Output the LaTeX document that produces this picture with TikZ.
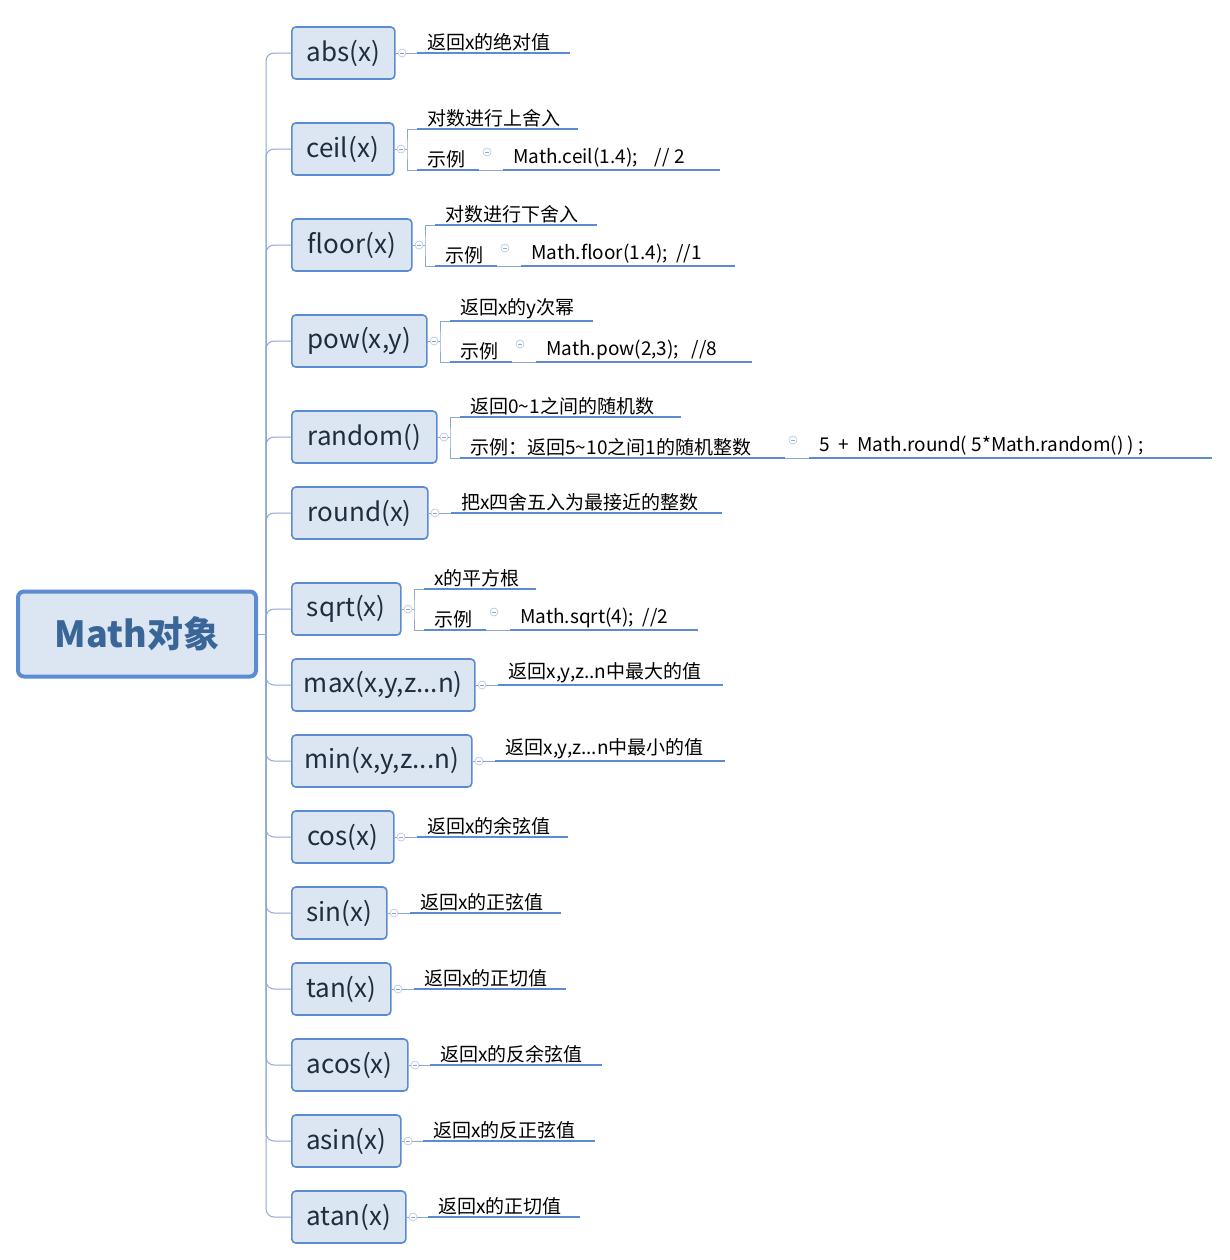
\documentclass[tikz,border=0pt]{standalone}
\usepackage{fontspec}
\setmainfont{Noto Sans CJK SC}
\definecolor{bfill}{HTML}{DCE6F2}
\definecolor{bdraw}{HTML}{5B8BD0}
\definecolor{btext}{HTML}{1F2D3D}
\definecolor{rtext}{HTML}{3A6598}
\definecolor{conn}{HTML}{8EA9D0}
\tikzset{
 cbox/.style={draw=bdraw,fill=bfill,line width=0.8pt,rounded corners=2pt,minimum height=26pt,inner sep=0pt,font=\fontsize{13}{15}\selectfont,text=btext},
 rootbox/.style={draw=bdraw,fill=bfill,line width=2pt,rounded corners=3pt,minimum width=119pt,minimum height=42.5pt,font=\fontsize{18}{20}\selectfont\bfseries,text=rtext},
 cn/.style={draw=conn,line width=0.5pt},
 ul/.style={draw=bdraw,line width=1.4pt},
 circ/.style={circle,draw=conn!70,fill=white,line width=0.3pt,minimum size=4pt,inner sep=0pt,path picture={\draw[conn,line width=0.3pt]([xshift=-1pt]path picture bounding box.center)--([xshift=1pt]path picture bounding box.center);}},
 lt/.style={anchor=south west,inner sep=1pt,font=\fontsize{9.5}{11}\selectfont,text=black}
}
\newcommand{\mychild}[5]{%
 \node[cbox,anchor=west,minimum width={(#3-291)*0.5pt}] (#1) at (291,#4) {#5};
 \draw[cn,rounded corners=4pt] (trunk) |- (#1.west);
 \node[circ] (#1c) at (#3+8,#4) {};
 \draw[cn] (#1.east) -- (#1c);}
\newcommand{\myleaf}[5]{% name, x1, x2, y, text
 \coordinate (#1a) at (#2,#4); \coordinate (#1b) at (#3,#4);
 \draw[ul] (#1a) -- (#1b);
 \node[lt] (#1) at ([xshift=4]#1a) {#5};}
\begin{document}
\begin{tikzpicture}[x=0.5pt,y=-0.5pt]
\useasboundingbox (0,0) rectangle (1230,1260);
\node[rootbox] (root) at (137,634) {Math对象};
\coordinate (trunk) at (266,634);
\draw[cn] (root.east) -- (trunk);
% abs
\mychild{abs}{291}{394}{53}{abs(x)}
\myleaf{l1}{417}{570}{53}{返回x的绝对值}
\draw[cn] (absc) -- (l1a);
% ceil
\mychild{ceil}{291}{393}{149}{ceil(x)}
\myleaf{l2}{417}{578}{129}{对数进行上舍入}
\myleaf{l2e}{417}{479}{170}{示例}
\myleaf{l2m}{503}{720}{170}{Math.ceil(1.4);\ \ \ \ // 2}
\draw[cn] (ceilc) -- (407,149);
\draw[cn] (l2a) -| (407,149) |- (l2ea);
\draw[cn] (l2eb) -- (l2ma);
\node[circ] (c2) at (487,152) {};
% floor
\mychild{floor}{291}{411}{245}{floor(x)}
\myleaf{l3}{435}{597}{225}{对数进行下舍入}
\myleaf{l3e}{435}{497}{266}{示例}
\myleaf{l3m}{521}{735}{266}{Math.floor(1.4);\ \ //1}
\draw[cn] (floorc) -- (425,245);
\draw[cn] (l3a) -| (425,245) |- (l3ea);
\draw[cn] (l3eb) -- (l3ma);
\node[circ] (c3) at (505,248) {};
% pow
\mychild{pow}{291}{426}{341}{pow(x,y)}
\myleaf{l4}{450}{593}{321}{返回x的y次幂}
\myleaf{l4e}{450}{512}{362}{示例}
\myleaf{l4m}{536}{752}{362}{Math.pow(2,3);\ \ \ //8}
\draw[cn] (powc) -- (440,341);
\draw[cn] (l4a) -| (440,341) |- (l4ea);
\draw[cn] (l4eb) -- (l4ma);
\node[circ] (c4) at (520,344) {};
% random
\mychild{random}{291}{436}{437}{random()}
\myleaf{l5}{460}{681}{417}{返回0\textasciitilde1之间的随机数}
\myleaf{l5e}{460}{785}{458}{示例：返回5\textasciitilde10之间1的随机整数}
\myleaf{l5m}{809}{1212}{458}{5 \ +\ \ Math.round( 5*Math.random() )\ ;}
\draw[cn] (randomc) -- (450,437);
\draw[cn] (l5a) -| (450,437) |- (l5ea);
\draw[cn] (l5eb) -- (l5ma);
\node[circ] (c5) at (793,440) {};
% round
\mychild{round}{291}{427}{513}{round(x)}
\myleaf{l6}{451}{722}{513}{把x四舍五入为最接近的整数}
\draw[cn] (roundc) -- (l6a);
% sqrt
\mychild{sqrt}{291}{400}{609}{sqrt(x)}
\myleaf{l7}{424}{536}{589}{x的平方根}
\myleaf{l7e}{424}{486}{630}{示例}
\myleaf{l7m}{510}{698}{630}{Math.sqrt(4);\ \ //2}
\draw[cn] (sqrtc) -- (414,609);
\draw[cn] (l7a) -| (414,609) |- (l7ea);
\draw[cn] (l7eb) -- (l7ma);
\node[circ] (c7) at (494,612) {};
% max
\mychild{max}{291}{474}{685}{max(x,y,z...n)}
\myleaf{l8}{498}{723}{685}{返回x,y,z..n中最大的值}
\draw[cn] (maxc) -- (l8a);
% min
\mychild{min}{291}{471}{761}{min(x,y,z...n)}
\myleaf{l9}{495}{725}{761}{返回x,y,z...n中最小的值}
\draw[cn] (minc) -- (l9a);
% cos
\mychild{cos}{291}{393}{837}{cos(x)}
\myleaf{l10}{417}{568}{837}{返回x的余弦值}
\draw[cn] (cosc) -- (l10a);
% sin
\mychild{sin}{291}{386}{913}{sin(x)}
\myleaf{l11}{410}{561}{913}{返回x的正弦值}
\draw[cn] (sinc) -- (l11a);
% tan
\mychild{tan}{291}{390}{989}{tan(x)}
\myleaf{l12}{414}{566}{989}{返回x的正切值}
\draw[cn] (tanc) -- (l12a);
% acos
\mychild{acos}{291}{407}{1065}{acos(x)}
\myleaf{l13}{430}{602}{1065}{返回x的反余弦值}
\draw[cn] (acosc) -- (l13a);
% asin
\mychild{asin}{291}{400}{1141}{asin(x)}
\myleaf{l14}{423}{595}{1141}{返回x的反正弦值}
\draw[cn] (asinc) -- (l14a);
% atan
\mychild{atan}{291}{405}{1217}{atan(x)}
\myleaf{l15}{428}{580}{1217}{返回x的正切值}
\draw[cn] (atanc) -- (l15a);
\end{tikzpicture}
\end{document}
